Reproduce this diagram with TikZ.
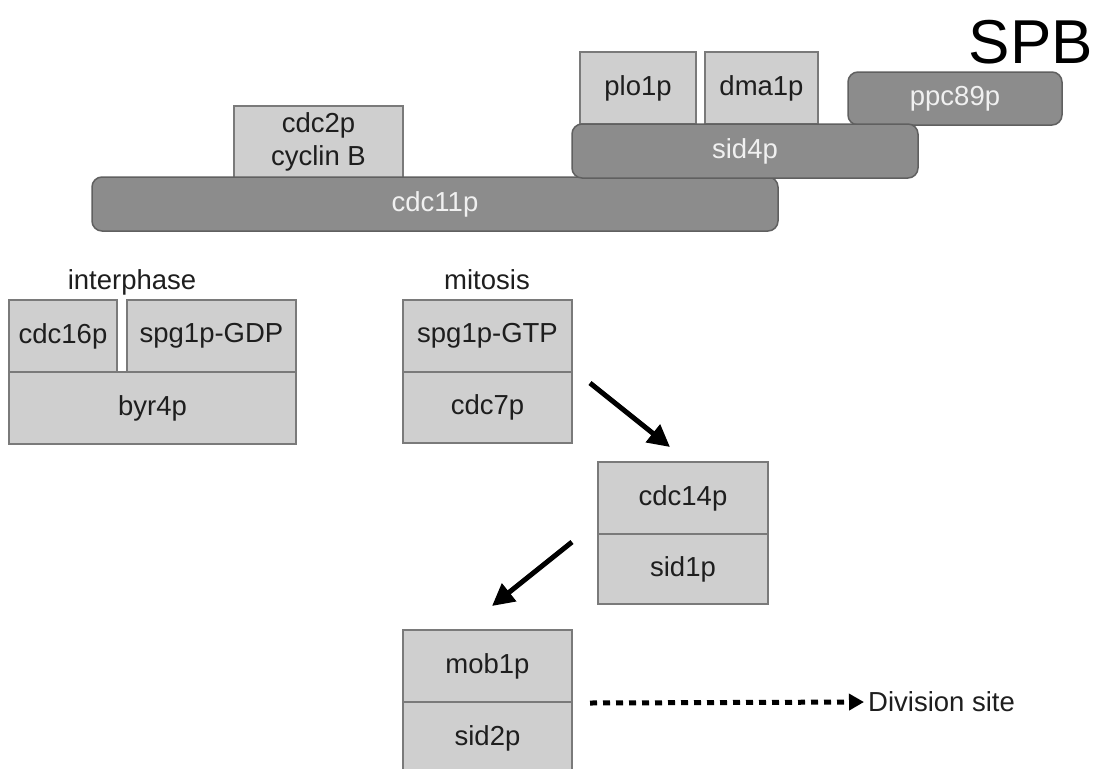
\documentclass[tikz,border=0pt]{standalone}
\usepackage{fontspec}
\setmainfont{Liberation Sans}
\usetikzlibrary{arrows.meta}
\definecolor{lightfill}{HTML}{CFCFCF}
\definecolor{lightdraw}{HTML}{7A7A7A}
\definecolor{darkfill}{HTML}{8C8C8C}
\definecolor{darkdraw}{HTML}{606060}
\definecolor{darktext}{HTML}{1E1E1E}
\definecolor{whitetext}{HTML}{F0F0F0}
\tikzset{
  lbox/.style={draw=lightdraw, fill=lightfill, line width=1.5pt, inner sep=0pt, outer sep=0pt,
    anchor=north west, text=darktext, align=center, font=\fontsize{27.5}{31}\selectfont},
  dbox/.style={draw=darkdraw, fill=darkfill, line width=1.5pt, rounded corners=10pt, inner sep=0pt, outer sep=0pt,
    anchor=north west, text=whitetext, font=\fontsize{27.5}{31}\selectfont},
  lab/.style={text=darktext, inner sep=0pt, font=\fontsize{27.5}{31}\selectfont},
  arr/.style={line width=5pt, -{Triangle[length=22pt,width=22pt]}},
  dotarr/.style={line width=5pt, dash pattern=on 7pt off 6pt, -{Triangle[length=15pt,width=16pt]}},
}
\begin{document}
\begin{tikzpicture}[x=1pt,y=-1pt]
\useasboundingbox (0,0) rectangle (1096,769);
\clip (0,0) rectangle (1096,769);
% SPB
\node[lab, anchor=south east, font=\fontsize{62}{66}\selectfont, text=black] (spb) at (1093,64) {SPB};
% top complex
\node[lbox, minimum width=169, minimum height=72] (cdc2p) at (234,106) {cdc2p\\[2pt]cyclin B};
\node[dbox, minimum width=686, minimum height=54] (cdc11p) at (92,177) {};
\node[text=whitetext, font=\fontsize{27.5}{31}\selectfont] (cdc11ptxt) at (435,204) {cdc11p};
\node[lbox, minimum width=116, minimum height=72] (plo1p) at (580,52) {plo1p};
\node[lbox, minimum width=113, minimum height=72] (dma1p) at (705,52) {dma1p};
\node[dbox, minimum width=214, minimum height=53] (ppc89p) at (848,72) {ppc89p};
\node[dbox, minimum width=346, minimum height=54] (sid4p) at (572,124) {sid4p};
% interphase
\node[lab, anchor=base] (interphase) at (132,289) {interphase};
\node[lbox, minimum width=108, minimum height=72] (cdc16p) at (9,300) {cdc16p};
\node[lbox, minimum width=169, minimum height=72] (spggdp) at (127,300) {spg1p-GDP};
\node[lbox, minimum width=287, minimum height=72] (byr4p) at (9,372) {byr4p};
% mitosis
\node[lab, anchor=base] (mitosis) at (487,289) {mitosis};
\node[lbox, minimum width=169, minimum height=72] (spggtp) at (403,300) {spg1p-GTP};
\node[lbox, minimum width=169, minimum height=71] (cdc7p) at (403,372) {cdc7p};
% cdc14p / sid1p
\node[lbox, minimum width=170, minimum height=72] (cdc14p) at (598,462) {cdc14p};
\node[lbox, minimum width=170, minimum height=70] (sid1p) at (598,534) {sid1p};
% mob1p / sid2p
\node[lbox, minimum width=169, minimum height=72] (mob1p) at (403,630) {mob1p};
\node[lbox, minimum width=169, minimum height=72] (sid2p) at (403,702) {sid2p};
% arrows
\coordinate (a1s) at (590,383);
\coordinate (a1e) at (670,447);
\draw[arr] (a1s) -- (a1e);
\coordinate (a2s) at (572,542);
\coordinate (a2e) at (492,606);
\draw[arr] (a2s) -- (a2e);
\node[lab, anchor=west] (divsite) at (868,702) {Division site};
\coordinate (dstart) at (590,703);
\draw[dotarr, shorten >=4pt] (dstart) -- (divsite.west);
\end{tikzpicture}
\end{document}
